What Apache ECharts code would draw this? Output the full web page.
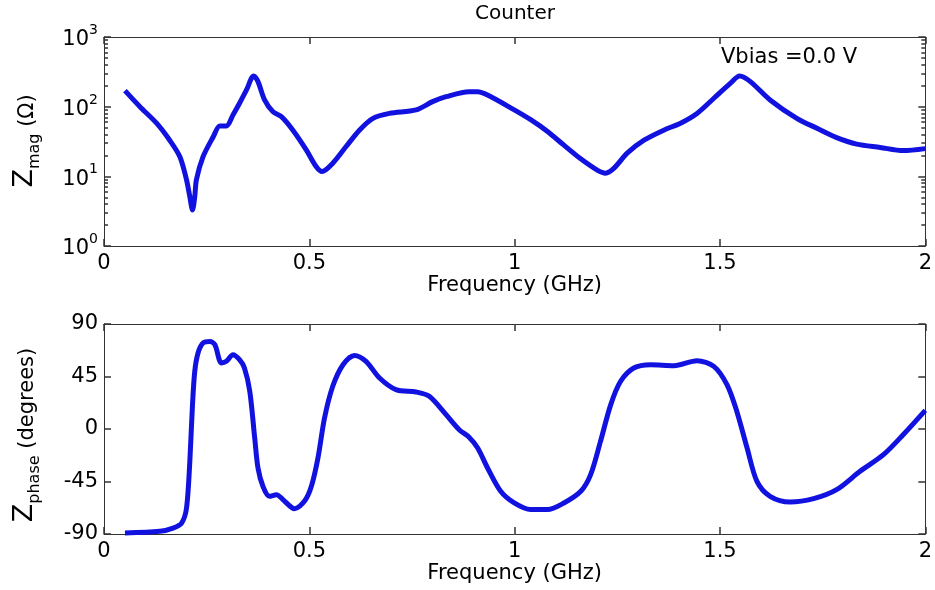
<!DOCTYPE html>
<html>
<head>
<meta charset="utf-8">
<script src="https://cdn.jsdelivr.net/npm/echarts@6/dist/echarts.min.js"></script>
<style>html,body{margin:0;padding:0;background:#fff;}#c{width:935px;height:590px;}</style>
</head>
<body>
<div id="c"></div>
<script>
// ---- data ----
const magFreq = [0.051,0.0875,0.128,0.16,0.185,0.201,0.209,0.2155,0.221,0.225,0.241,0.266,0.282,0.298,0.314,0.33,0.347,0.3645,0.375,0.391,0.411,0.432,0.46,0.4925,0.517,0.531,0.557,0.59,0.622,0.655,0.695,0.76,0.80,0.833,0.889,0.91,0.934,0.999,1.039,1.08,1.12,1.16,1.201,1.2215,1.242,1.274,1.315,1.363,1.404,1.444,1.485,1.525,1.548,1.574,1.622,1.687,1.736,1.784,1.833,1.89,1.946,2.0];
const magVal  = [170,100,58,33,19,8.9,5.1,3.3,5.1,8.9,19,37,53,53,76,112,174,276,229,125,85,72,46,24,13.7,11.7,15.4,27,46,68,80,90,118,139,164,164,147,90,65,44,28,18,12.3,11.1,13.1,21.5,33,46,58,80,132,216,276,229,125,68,49,36,29,26,23.4,25];

const phFreq = [0.051,0.136,0.168,0.189,0.201,0.209,0.2155,0.221,0.229,0.241,0.258,0.27,0.286,0.298,0.314,0.33,0.342,0.355,0.367,0.375,0.387,0.403,0.42,0.436,0.464,0.488,0.505,0.521,0.537,0.557,0.582,0.61,0.638,0.671,0.711,0.76,0.792,0.833,0.865,0.889,0.91,0.934,0.966,0.999,1.039,1.08,1.12,1.161,1.185,1.209,1.234,1.258,1.29,1.331,1.388,1.444,1.485,1.517,1.541,1.566,1.59,1.622,1.671,1.728,1.784,1.841,1.898,1.946,2.0];
const phVal  = [-89.1,-87.7,-84.9,-80.6,-67.7,-27.7,20.9,49.4,65.1,73.7,75.1,72.3,56.6,58,63.7,59.4,52.3,32.3,-7.7,-33.4,-49.1,-57.7,-56.3,-60.6,-68.3,-62,-49.1,-24.9,9.4,36.6,55.1,63.1,58,43.7,33.7,31.7,28,12.3,-0.6,-7,-16.3,-33.4,-53.4,-63.4,-69.1,-69.1,-63.4,-53.4,-39.1,-10.6,20.9,40.9,52.3,55.1,54.3,58.6,53.7,38,15.1,-16.3,-44.9,-57.7,-62.6,-59.7,-52,-36.3,-22,-4.9,16];

const xTicks = [0, 0.5, 1, 1.5, 2];
const phaseTicks = [-90, -45, 0, 45, 90];
const titleText = 'Counter';
const noteText = 'Vbias =0.0 V';
const xName = 'Frequency (GHz)';

// ---- chart ----
const FONT = 'DejaVu Sans';
const LINE = '#1212e0';
const AX = '#333';
const TW = 1.5;
const chart = echarts.init(document.getElementById('c'), null, {renderer: 'canvas'});

function xAx(grid, pos, show) {
  return {
    type: 'value', gridIndex: grid, position: pos, min: 0, max: 2, interval: 0.5,
    axisLine: {show: true, onZero: false, lineStyle: {color: AX, width: 1}},
    axisTick: {show: true, inside: true, length: 7, lineStyle: {color: AX, width: TW}},
    axisLabel: {show: show, color: '#000', fontFamily: FONT, fontSize: 21, margin: 7,
      formatter: v => xTicks.includes(v) ? String(v) : ''},
    splitLine: {show: false},
    name: show ? xName : '', nameLocation: 'middle', nameGap: 29,
    nameTextStyle: {color: '#000', fontFamily: FONT, fontSize: 21}
  };
}
function logAx(pos, show) {
  return {
    type: 'log', logBase: 10, gridIndex: 0, position: pos, min: 1, max: 1000,
    axisLine: {show: true, onZero: false, lineStyle: {color: AX}},
    axisTick: {show: true, inside: true, length: 7, lineStyle: {color: AX, width: TW}},
    minorTick: {show: true, splitNumber: 9, length: 4, lineStyle: {color: AX, width: TW}},
    axisLabel: {show: show, margin: 6,
      formatter: v => '{b|10}{s|' + Math.round(Math.log10(v)) + '}',
      rich: {
        b: {fontFamily: FONT, fontSize: 21, color: '#000', verticalAlign: 'bottom'},
        s: {fontFamily: FONT, fontSize: 14, color: '#000', verticalAlign: 'bottom', padding: [0,0,13,0]}
      }},
    splitLine: {show: false}
  };
}
function phAx(pos, show) {
  return {
    type: 'value', gridIndex: 1, position: pos, min: -90, max: 90, interval: 45,
    axisLine: {show: true, onZero: false, lineStyle: {color: AX}},
    axisTick: {show: true, inside: true, length: 7, lineStyle: {color: AX, width: TW}},
    axisLabel: {show: show, color: '#000', fontFamily: FONT, fontSize: 21, margin: 6,
      formatter: v => phaseTicks.includes(v) ? String(v) : ''},
    splitLine: {show: false}
  };
}

const option = {
  animation: false,
  backgroundColor: '#fff',
  grid: [
    {left: 104, right: 8, top: 37, height: 209},
    {left: 104, right: 8, top: 324, height: 210}
  ],
  xAxis: [xAx(0, 'bottom', true), xAx(0, 'top', false), xAx(1, 'bottom', true), xAx(1, 'top', false)],
  yAxis: [logAx('left', true), logAx('right', false), phAx('left', true), phAx('right', false)],
  series: [
    {type: 'line', xAxisIndex: 0, yAxisIndex: 0, showSymbol: false, smooth: 0.3,
      lineStyle: {color: LINE, width: 5}, data: magFreq.map((f, i) => [f, magVal[i]])},
    {type: 'line', xAxisIndex: 2, yAxisIndex: 2, showSymbol: false, smooth: 0.3,
      lineStyle: {color: LINE, width: 5}, data: phFreq.map((f, i) => [f, phVal[i]])}
  ],
  graphic: [
    {type: 'text', x: 515, y: 14, style: {text: titleText,
      font: '20px ' + FONT, fill: '#000', align: 'center', verticalAlign: 'middle'}},
    {type: 'text', x: 721, y: 58, style: {text: noteText, font: '21px ' + FONT, fill: '#000',
      align: 'left', verticalAlign: 'middle'}},
    {type: 'text', x: 27, y: 141, rotation: Math.PI / 2, style: {
      text: '{z|Z}{s|mag}{n| (Ω)}', align: 'center', verticalAlign: 'middle',
      rich: {
        z: {font: '27px ' + FONT, fill: '#000', verticalAlign: 'bottom', padding: [0,0,5,0]},
        s: {font: '16px ' + FONT, fill: '#000', verticalAlign: 'bottom'},
        n: {font: '21px ' + FONT, fill: '#000', verticalAlign: 'bottom', padding: [0,0,5,0]}
      }}},
    {type: 'text', x: 27, y: 435, rotation: Math.PI / 2, style: {
      text: '{z|Z}{s|phase}{n| (degrees)}', align: 'center', verticalAlign: 'middle',
      rich: {
        z: {font: '27px ' + FONT, fill: '#000', verticalAlign: 'bottom', padding: [0,0,5,0]},
        s: {font: '16px ' + FONT, fill: '#000', verticalAlign: 'bottom'},
        n: {font: '21px ' + FONT, fill: '#000', verticalAlign: 'bottom', padding: [0,0,5,0]}
      }}}
  ]
};
chart.setOption(option);
</script>
</body>
</html>
